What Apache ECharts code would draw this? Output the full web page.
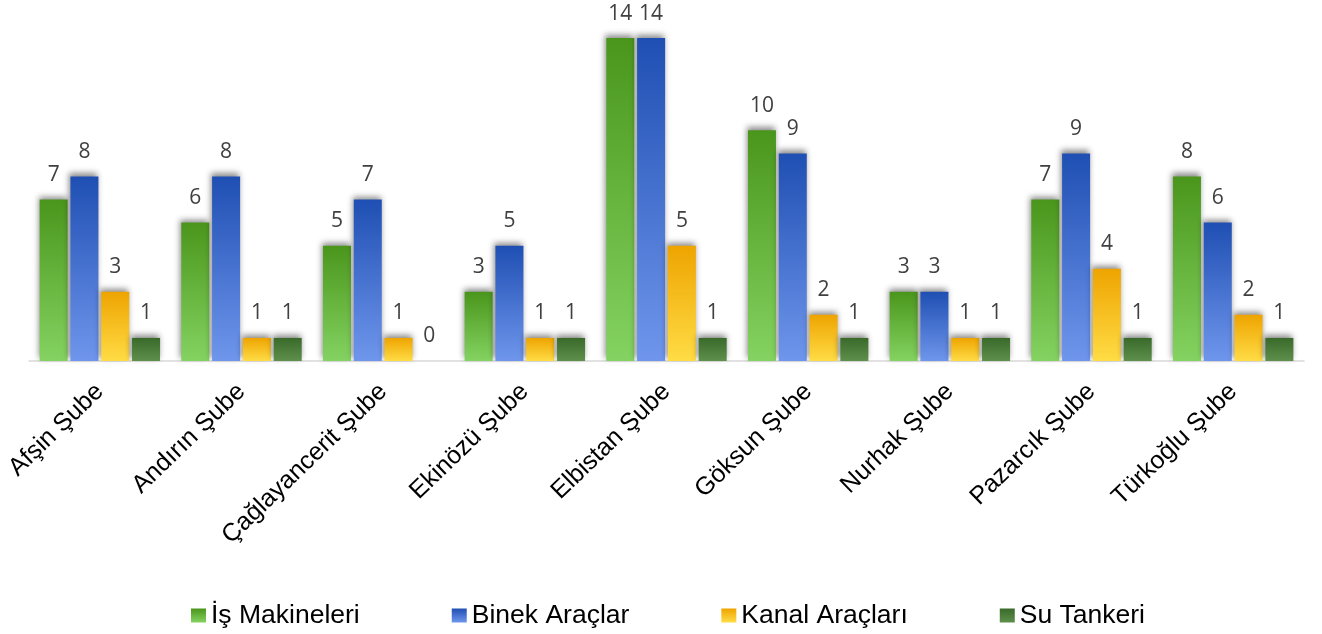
<!DOCTYPE html>
<html><head><meta charset="utf-8">
<script src="https://cdn.jsdelivr.net/npm/echarts@6/dist/echarts.min.js"></script>
<style>html,body{margin:0;padding:0;background:#fff}#c{width:1322px;height:634px}</style>
</head><body><div id="c"></div>
<script>
const categories = ['Afşin Şube','Andırın Şube','Çağlayancerit Şube','Ekinözü Şube','Elbistan Şube','Göksun Şube','Nurhak Şube','Pazarcık Şube','Türkoğlu Şube'];
const seriesNames = ['İş Makineleri','Binek Araçlar','Kanal Araçları','Su Tankeri'];
const isMakineleri = [7,6,5,3,14,10,3,7,8];
const binekAraclar = [8,8,7,5,14,9,3,9,6];
const kanalAraclari = [3,1,1,1,5,2,1,4,2];
const suTankeri = [1,1,0,1,1,1,1,1,1];
const values = [isMakineleri, binekAraclar, kanalAraclari, suTankeri];
const colors = [
  ['#4a961c','#84d261'],
  ['#1f4fb3','#6f96ec'],
  ['#eea400','#ffdc45'],
  ['#3a6a2a','#5f8f4c']
];
const chart = echarts.init(document.getElementById('c'));
const grad = (c) => new echarts.graphic.LinearGradient(0,0,0,1,[{offset:0,color:c[0]},{offset:1,color:c[1]}]);
chart.setOption({
  animation:false,
  grid:{left:29,right:18,top:15,bottom:273,containLabel:false},
  legend:{
    bottom:0, left:186, itemWidth:15, itemHeight:14, itemGap:92,
    textStyle:{fontFamily:'Liberation Sans',fontSize:26.5,color:'#000'},
    data:seriesNames.map((n,i)=>({name:n,icon:'rect',itemStyle:{color:grad(colors[i])}}))
  },
  xAxis:{type:'category',data:categories,
    axisLine:{lineStyle:{color:'#d9d9d9',width:1.5}},axisTick:{show:false},
    axisLabel:{rotate:44,fontFamily:'Liberation Sans',fontSize:25,color:'#000',margin:27,interval:0}},
  yAxis:{type:'value',min:0,max:15,show:false,splitLine:{show:false}},
  series:values.map((v,i)=>({
    name:seriesNames[i],type:'bar',data:v,barWidth:28,barGap:'10%',
    itemStyle:{color:grad(colors[i]),shadowColor:'rgba(0,0,0,0.45)',shadowBlur:6,shadowOffsetX:-1,shadowOffsetY:-3},
    label:{show:true,position:'top',distance:14,fontFamily:'Open Sans',fontSize:21,color:'#404040'}
  }))
});
</script></body></html>
